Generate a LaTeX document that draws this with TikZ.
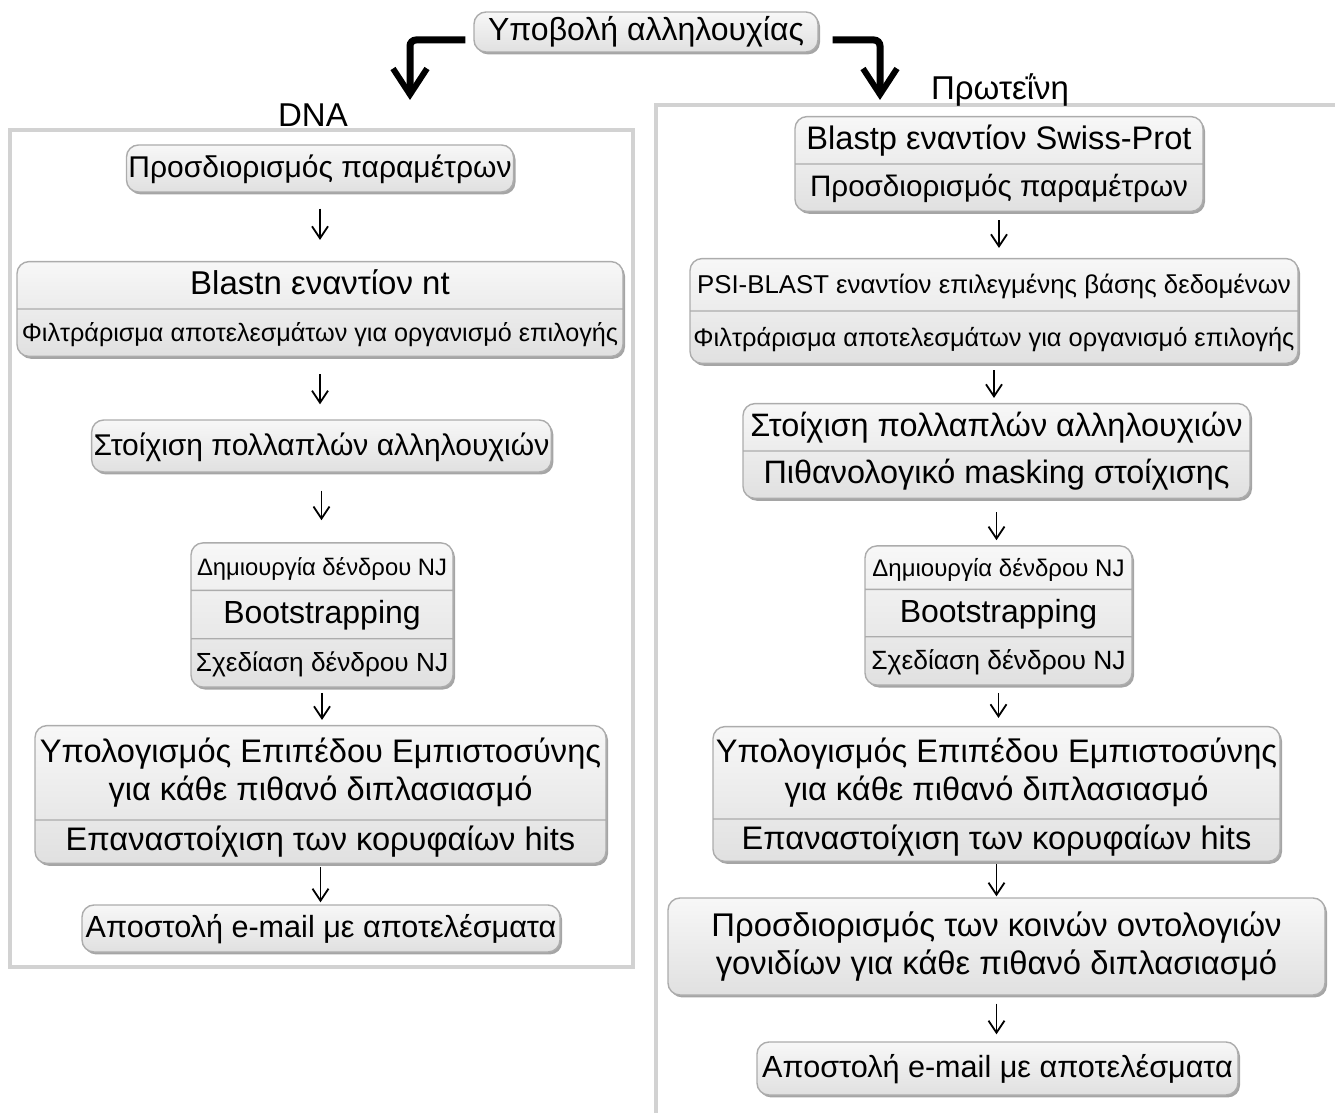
\documentclass[tikz,border=0pt]{standalone}
\usepackage{fontspec}
\setmainfont{Liberation Sans}
\usetikzlibrary{arrows.meta,shapes.multipart,shadows}
\newcommand{\fsz}[1]{\fontsize{#1}{19}\selectfont}
\newcommand{\strone}[1]{\rule[\dimexpr(9pt-#1)/2\relax]{0pt}{#1}}
\newcommand{\strtop}[1]{\rule{0pt}{#1}}
\newcommand{\strbot}[1]{\rule[-#1]{0pt}{#1}}
\begin{document}
\begin{tikzpicture}[x=0.5pt,y=-0.5pt,
	box/.style={draw=gray!65, line width=0.7pt, rounded corners=6pt, top color=gray!6, bottom color=gray!24,
		inner xsep=1pt, inner ysep=0pt, align=center, font=\fsz{15}, minimum width=#1,
		drop shadow={shadow xshift=1pt, shadow yshift=-1.2pt, opacity=0.5, fill=black!70}},
	nparts/.style={rectangle split, rectangle split parts=#1},
	arr/.style={-{Straight Barb[length=6pt,width=8pt]}, line width=0.9pt},
	bigarr/.style={-{Straight Barb[length=13pt,width=17pt,line width=3pt]}, line width=3.5pt, rounded corners=3pt},
	frame/.style={draw=gray!35, line width=2pt}]
\useasboundingbox (0,0) rectangle (1335,1113);

\draw[frame] (10,130) rectangle (633,967);
\draw[frame] (656,1120) -- (656,105) -- (1340,105);

\node[box=172pt, font=\fsz{16}] (sub) at (646,32) {\strone{20pt}Υποβολή αλληλουχίας};
\node[font=\fsz{16.5}] (dna) at (313,115) {DNA};
\node[font=\fsz{16.5}] (prot) at (1000,90) {Πρωτεΐνη};
\coordinate (dnatip) at (410,100);
\coordinate (prottip) at (880,100);
\draw[bigarr, shorten <=4pt] ([yshift=-4pt]sub.west) -| (dnatip);
\draw[bigarr, shorten <=7pt] ([yshift=-4pt]sub.east) -| (prottip);

\node[box=193pt] (L1) at (320,168.5) {\strone{23.5pt}Προσδιορισμός παραμέτρων};
\node[box=303pt, nparts=2] (L2) at (320,309)
	{\fsz{16.5}\strone{23pt}Blastn εναντίον nt\nodepart{two}\fsz{12.6}\strone{23pt}Φιλτράρισμα αποτελεσμάτων για οργανισμό επιλογής};
\node[box=228.5pt] (L3) at (321.5,446) {\strone{26pt}Στοίχιση πολλαπλών αλληλουχιών};
\node[box=131pt, nparts=3] (L4) at (322,615)
	{\fsz{11.9}\strone{23pt}Δημιουργία δένδρου NJ\nodepart{two}\fsz{16}\strone{23.5pt}Bootstrapping\nodepart{three}\fsz{13.1}\strone{23.5pt}Σχεδίαση δένδρου NJ};
\node[box=285.5pt, nparts=2, font=\fsz{16.3}] (L5) at (320.5,794.5)
	{\strtop{18.25pt}Υπολογισμός Επιπέδου Εμπιστοσύνης\\ για κάθε πιθανό διπλασιασμό\strbot{9.25pt}\nodepart{two}\fsz{16.3}\strone{21pt}Επαναστοίχιση των κορυφαίων hits};
\node[box=239pt, font=\fsz{15.3}] (L6) at (321,928.5) {\strone{23.5pt}Αποστολή e-mail με αποτελέσματα};

\node[box=204pt, nparts=2] (R1) at (999,164)
	{\fsz{16.3}\strone{23pt}Blastp εναντίον Swiss-Prot\nodepart{two}\fsz{14.8}\strone{23pt}Προσδιορισμός παραμέτρων};
\node[box=304pt, nparts=2] (R2) at (994,311)
	{\fsz{12.9}\strone{25.5pt}PSI-BLAST εναντίον επιλεγμένης βάσης δεδομένων\nodepart{two}\fsz{12.7}\strone{25.5pt}Φιλτράρισμα αποτελεσμάτων για οργανισμό επιλογής};
\node[box=253.5pt, nparts=2] (R3) at (996.5,451)
	{\fsz{16.2}\strone{23pt}Στοίχιση πολλαπλών αλληλουχιών\nodepart{two}\fsz{16.2}\strone{23pt}Πιθανολογικό masking στοίχισης};
\node[box=133.5pt, nparts=3] (R4) at (998.5,615.5)
	{\fsz{12}\strone{21pt}Δημιουργία δένδρου NJ\nodepart{two}\fsz{16}\strone{23pt}Bootstrapping\nodepart{three}\fsz{13.2}\strone{23.5pt}Σχεδίαση δένδρου NJ};
\node[box=283.5pt, nparts=2, font=\fsz{16.3}] (R5) at (996.5,794)
	{\strtop{17.75pt}Υπολογισμός Επιπέδου Εμπιστοσύνης\\ για κάθε πιθανό διπλασιασμό\strbot{8.75pt}\nodepart{two}\fsz{16.3}\strone{20.5pt}Επαναστοίχιση των κορυφαίων hits};
\node[box=328.5pt, font=\fsz{16.4}] (R6) at (996.5,946.5)
	{\strtop{19.25pt}Προσδιορισμός των κοινών οντολογιών\\ γονιδίων για κάθε πιθανό διπλασιασμό\strbot{10.25pt}};
\node[box=240.5pt, font=\fsz{15.3}] (R7) at (997.5,1068.5) {\strone{26.5pt}Αποστολή e-mail με αποτελέσματα};

\foreach \a/\b/\s/\e in {L1/L2/8/10.5, L2/L3/8.5/7.5, L3/L4/9/11, L4/L5/2.5/2.5, L5/L6/1.5/1,
	R1/R2/4/5, R2/R3/3/2.5, R3/R4/6.5/2.5, R4/R5/3.5/4, R5/R6/1/0.5, R6/R7/4/3.5}
	\draw[arr, shorten <=\s pt, shorten >=\e pt] (\a.south) -- (\a.south |- \b.north);
\end{tikzpicture}
\end{document}
